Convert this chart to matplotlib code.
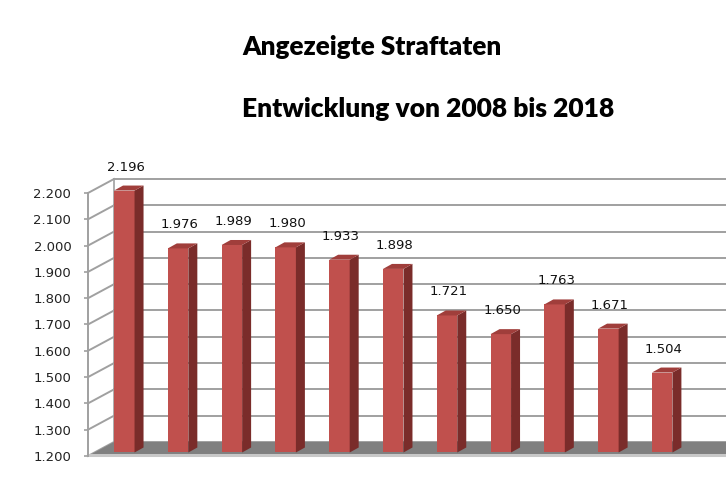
import numpy as np
import matplotlib.pyplot as plt
from matplotlib.patches import Polygon

# Daten
jahre = ["2008", "2009", "2010", "2011", "2012", "2013", "2014", "2015", "2016", "2017", "2018"]
faelle = [2196, 1976, 1989, 1980, 1933, 1898, 1721, 1650, 1763, 1671, 1504]
y_ticks = [1200, 1300, 1400, 1500, 1600, 1700, 1800, 1900, 2000, 2100, 2200]


def de_fmt(v):
    return f"{v:,}".replace(",", ".")


# Geometrie (Pseudo-3D wie in Excel)
W_PX, H_PX = 726, 499
X_PX = 53.8                 # Pixel pro Kategorie
Y_PX = 263 / 1000           # Pixel pro Einheit
xmin, xmax = -0.554, 11.94
ymin, ymax = 1200, 2200
WX, WY = 26 / X_PX, 14 / Y_PX          # Tiefe der Wand
BX0, BY0 = 0.25 * WX, 0.25 * WY        # Lage der Balkenvorderseite
DX, DY = 9 / X_PX, 5 / Y_PX            # Tiefe der Balken
bw = 20.5 / X_PX

grid_c = "#a0a0a0"
front_c = "#c0504d"
top_c = "#a03e3b"
side_c = "#7a2c2a"

fig = plt.figure(figsize=(7.26, 4.99), dpi=100)
ax = fig.add_axes([88 / W_PX, 43 / H_PX, (760 - 88) / W_PX, 263 / H_PX])
ax.set_xlim(xmin, xmax)
ax.set_ylim(ymin, ymax)

# Wände und Gitternetz
for v in y_ticks:
    ax.plot([xmin, xmin + WX], [v, v + WY], color=grid_c, lw=1.4, clip_on=False, zorder=1)
    ax.plot([xmin + WX, xmax + 2], [v + WY, v + WY], color=grid_c, lw=1.4, clip_on=False, zorder=1)
ax.plot([xmin + WX, xmin + WX], [ymin + WY, ymax + WY], color=grid_c, lw=1.2, clip_on=False, zorder=1)

# Boden
floor = Polygon([(xmin, ymin), (xmin + WX, ymin + WY), (xmax + 2, ymin + WY), (xmax + 2, ymin)],
                closed=True, facecolor="#808080", edgecolor="none", clip_on=False, zorder=2)
ax.add_patch(floor)
ax.plot([xmin, xmax + 2], [ymin + 5, ymin + 5], color="#c8c8c8", lw=2.2, clip_on=False, zorder=2)

# Balken
x = np.arange(len(faelle))
vals = np.array(faelle)
ax.bar(x + BX0, vals - ymin, bottom=ymin + BY0, width=bw,
       color=front_c, edgecolor="none", zorder=3, clip_on=False)
for xi, v in zip(x, vals):
    l = xi + BX0 - bw / 2
    r = l + bw
    t = v + BY0
    b = ymin + BY0
    ax.add_patch(Polygon([(r, b), (r + DX, b + DY), (r + DX, t + DY), (r, t)],
                         closed=True, facecolor=side_c, edgecolor="none", zorder=3, clip_on=False))
    ax.add_patch(Polygon([(l, t), (l + DX, t + DY), (r + DX, t + DY), (r, t)],
                         closed=True, facecolor=top_c, edgecolor="none", zorder=3, clip_on=False))
    ax.text(l + bw / 2 + 0.03, t + DY + 12 / Y_PX, de_fmt(v), ha="center", va="bottom",
            fontsize=9.5, color="#111111", zorder=4)

# Achsen
for s in ["top", "right", "bottom"]:
    ax.spines[s].set_visible(False)
ax.spines["left"].set_color(grid_c)
ax.spines["left"].set_linewidth(1.4)
ax.set_yticks(y_ticks)
ax.set_yticklabels([de_fmt(v) for v in y_ticks])
ax.tick_params(axis="y", color=grid_c, length=3, width=1.2, pad=9, labelsize=9.5, labelcolor="#222222")
ax.set_xticks([])
ax.patch.set_visible(False)

# Titel
fig.text(242 / W_PX, 1 - 55 / H_PX, "Angezeigte Straftaten", ha="left", va="baseline",
         fontsize=18.8, fontweight="heavy", family="Lato")
fig.text(242 / W_PX, 1 - 117 / H_PX, "Entwicklung von 2008 bis 2018", ha="left", va="baseline",
         fontsize=19, fontweight="heavy", family="Lato")

fig.savefig("out.png", dpi=100)
